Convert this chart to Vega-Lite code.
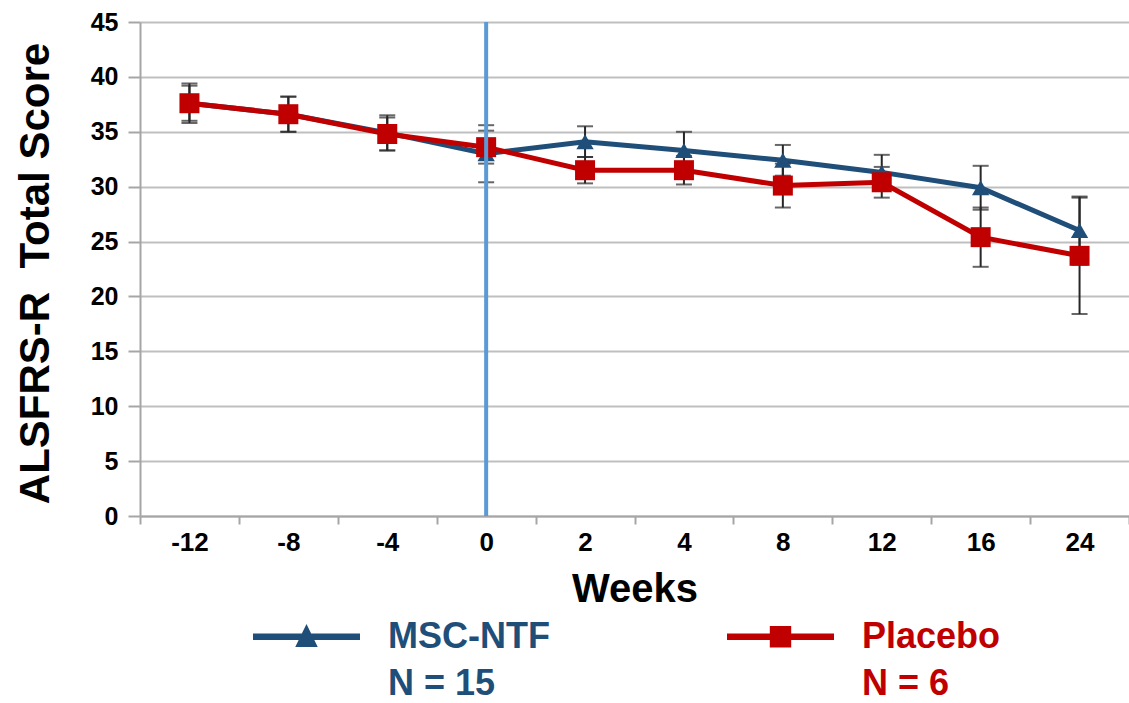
{
  "$schema": "https://vega.github.io/schema/vega-lite/v6.json",
  "width": 989,
  "height": 494,
  "autosize": {"type": "none"},
  "padding": {"left": 140, "top": 22, "right": 0, "bottom": 187},
  "background": "white",
  "config": {
    "view": {"stroke": null},
    "font": "Liberation Sans"
  },
  "datasets": {
    "scores": [
      {"week": "-12", "group": "MSC-NTF", "score": 37.6, "err": 1.8},
      {"week": "-8", "group": "MSC-NTF", "score": 36.6, "err": 1.6},
      {"week": "-4", "group": "MSC-NTF", "score": 34.9, "err": 1.6},
      {"week": "0", "group": "MSC-NTF", "score": 33.0, "err": 2.6},
      {"week": "2", "group": "MSC-NTF", "score": 34.1, "err": 1.4},
      {"week": "4", "group": "MSC-NTF", "score": 33.3, "err": 1.7},
      {"week": "8", "group": "MSC-NTF", "score": 32.4, "err": 1.4},
      {"week": "12", "group": "MSC-NTF", "score": 31.3, "err": 1.6},
      {"week": "16", "group": "MSC-NTF", "score": 29.9, "err": 2.0},
      {"week": "24", "group": "MSC-NTF", "score": 26.0, "err": 3.1},
      {"week": "-12", "group": "Placebo", "score": 37.6, "err": 1.6},
      {"week": "-8", "group": "Placebo", "score": 36.6, "err": 1.6},
      {"week": "-4", "group": "Placebo", "score": 34.8, "err": 1.5},
      {"week": "0", "group": "Placebo", "score": 33.6, "err": 1.5},
      {"week": "2", "group": "Placebo", "score": 31.5, "err": 1.2},
      {"week": "4", "group": "Placebo", "score": 31.5, "err": 1.3},
      {"week": "8", "group": "Placebo", "score": 30.1, "err": 2.0},
      {"week": "12", "group": "Placebo", "score": 30.4, "err": 1.4},
      {"week": "16", "group": "Placebo", "score": 25.4, "err": 2.7},
      {"week": "24", "group": "Placebo", "score": 23.7, "err": 5.3}
    ],
    "treatment": [{"week": "0"}]
  },
  "encoding": {
    "x": {
      "field": "week",
      "type": "ordinal",
      "scale": {
        "type": "band",
        "domain": ["-12", "-8", "-4", "0", "2", "4", "8", "12", "16", "24"],
        "paddingInner": 0,
        "paddingOuter": 0
      },
      "axis": {
        "title": "Weeks",
        "titleFontSize": 40,
        "titleFontWeight": "bold",
        "titleColor": "black",
        "titlePadding": 14,
        "labelFontSize": 26,
        "labelFontWeight": "bold",
        "labelColor": "black",
        "labelAngle": 0,
        "labelPadding": 5,
        "tickBand": "extent",
        "tickSize": 8,
        "tickWidth": 2,
        "tickColor": "#A6A6A6",
        "domainColor": "#A6A6A6",
        "domainWidth": 2,
        "grid": false
      }
    }
  },
  "layer": [
    {
      "data": {"name": "scores"},
      "mark": {"type": "line", "strokeWidth": 5},
      "encoding": {
        "y": {
          "field": "score",
          "type": "quantitative",
          "scale": {"domain": [0, 45], "nice": false},
          "axis": {
            "title": "ALSFRS-R\u00a0 Total Score",
            "titleFontSize": 42,
            "titleFontWeight": "bold",
            "titleColor": "black",
            "titlePadding": 33,
            "titleY": 251,
            "values": [0, 5, 10, 15, 20, 25, 30, 35, 40, 45],
            "labelFontSize": 25,
            "labelFontWeight": "bold",
            "labelColor": "black",
            "labelPadding": 10,
            "tickSize": 12,
            "tickWidth": 2,
            "tickColor": "#A6A6A6",
            "domainColor": "#A6A6A6",
            "domainWidth": 2,
            "grid": true,
            "gridColor": "#BFBFBF",
            "gridWidth": 2
          }
        },
        "color": {
          "field": "group",
          "type": "nominal",
          "scale": {"domain": ["MSC-NTF", "Placebo"], "range": ["#1F4E79", "#C00000"]},
          "legend": {
            "title": null,
            "orient": "none",
            "legendX": 113,
            "legendY": 561,
            "direction": "horizontal",
            "columns": 2,
            "columnPadding": 177,
            "padding": 0,
            "symbolSize": 11449,
            "symbolStrokeWidth": 0,
            "labelFontSize": 36,
            "labelFontWeight": "bold",
            "labelLimit": 0,
            "labelOffset": 28,
            "labelExpr": "datum.label == 'Placebo' ? ['Placebo', 'N = 6'] : ['MSC-NTF', 'N = 15']",
            "encode": {
              "symbols": {
                "update": {
                  "shape": {"signal": "datum.value === 'Placebo' ? 'M-1,-0.06H1V0.06H-1Z M-0.2,-0.2H0.2V0.2H-0.2Z' : 'M-1,-0.06H1V0.06H-1Z M-0.21,0.19L0,-0.24L0.21,0.19Z'"},
                  "size": {"value": 11449},
                  "fill": {"signal": "datum.value === 'Placebo' ? '#C00000' : '#1F4E79'"},
                  "stroke": {"value": "transparent"},
                  "strokeWidth": {"value": 0},
                  "opacity": {"value": 1}
                }
              },
              "labels": {
                "update": {
                  "fill": {"signal": "datum.value === 'Placebo' ? '#C00000' : '#1F4E79'"},
                  "lineHeight": {"value": 47}
                }
              }
            }
          }
        }
      }
    },
    {
      "data": {"name": "scores"},
      "mark": {"type": "errorbar", "color": "#262626", "thickness": 2, "ticks": {"size": 16}},
      "encoding": {
        "y": {"field": "score", "type": "quantitative", "title": "ALSFRS-R\u00a0 Total Score"},
        "yError": {"field": "err"}
      }
    },
    {
      "data": {"name": "scores"},
      "transform": [{"filter": "datum.group === 'MSC-NTF'"}],
      "mark": {"type": "point", "shape": "triangle-up", "filled": true, "opacity": 1, "size": 300, "color": "#1F4E79"},
      "encoding": {
        "y": {"field": "score", "type": "quantitative", "title": "ALSFRS-R\u00a0 Total Score"}
      }
    },
    {
      "data": {"name": "scores"},
      "transform": [{"filter": "datum.group === 'Placebo'"}],
      "mark": {"type": "point", "shape": "square", "filled": true, "opacity": 1, "size": 400, "color": "#C00000"},
      "encoding": {
        "y": {"field": "score", "type": "quantitative", "title": "ALSFRS-R\u00a0 Total Score"}
      }
    },
    {
      "data": {"name": "treatment"},
      "mark": {"type": "rule", "color": "#5B9BD5", "strokeWidth": 4},
      "encoding": {}
    }
  ]
}
